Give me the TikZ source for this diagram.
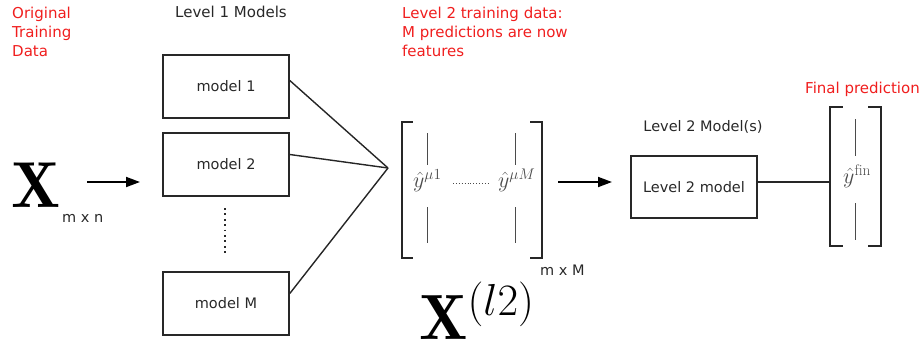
\RequirePackage{fix-cm}
\documentclass[tikz,border=0pt]{standalone}
\usepackage{fontspec}
\newfontfamily\dv{DejaVu Sans}
\usetikzlibrary{arrows.meta,calc}
\definecolor{redtxt}{RGB}{240,30,30}
\definecolor{txt}{RGB}{40,40,40}
\definecolor{mathgray}{RGB}{75,75,75}
\begin{document}
\begin{tikzpicture}[x=1pt,y=-1pt,
  lbl/.style={font=\dv\fontsize{14.5}{19}\selectfont, text=txt, inner sep=0},
  biglbl/.style={font=\dv\fontsize{15}{19}\selectfont, text=txt, inner sep=0},
  redlbl/.style={biglbl, text=redtxt, align=left, anchor=north west},
  modelbox/.style={draw=txt, line width=1.6pt, minimum width=126pt, minimum height=63pt,
    font=\dv\fontsize{14.5}{17}\selectfont, text=txt},
  conn/.style={line width=1.4pt, draw=black!85},
  arr/.style={line width=1.8pt, draw=black, -{Triangle[length=14pt,width=10pt]}},
  brk/.style={line width=1.8pt, draw=black!85},
  bar/.style={line width=0.9pt, draw=mathgray},
  mth/.style={text=mathgray, font=\fontsize{22}{26}\selectfont, inner sep=0},
  bigx/.style={text=black, inner sep=0, anchor=base}
]
\useasboundingbox (0,0) rectangle (922,346);

% red labels
\node[redlbl] (orig) at (12,7) {Original\\Training\\Data};
\node[redlbl] (l2data) at (402,7) {Level 2 training data:\\M predictions are now\\features};
\node[biglbl, text=redtxt, anchor=base west] (finlbl) at (805,93) {Final prediction};

% headings
\node[biglbl] (l1head) at (231,12) {Level 1 Models};
\node[lbl, anchor=base] (l2head) at (703,131.5) {Level 2 Model(s)};

% input X
\node[bigx, anchor=base west, font=\fontsize{65}{65}\selectfont] (X) at (11,207) {$\mathbf{X}$};
\node[lbl, anchor=base west] (Xsub) at (62,222) {m x n};
\coordinate (a1s) at (87,182);
\coordinate (a1e) at (140,182);
\draw[arr] (a1s) -- (a1e);

% level 1 models
\node[modelbox] (m1) at (226,86.5) {model 1};
\node[modelbox] (m2) at (226,164.5) {model 2};
\node[modelbox] (mM) at (226,303.5) {model M};
\coordinate (d1) at (225,208);
\coordinate (d2) at (225,254);
\draw[line width=2pt, dash pattern=on 1.8pt off 3.6pt, draw=txt] (d1) -- (d2);

% converging lines
\coordinate (conv) at (388,168);
\draw[conn] ($(m1.east)+(0,-6)$) -- (conv);
\draw[conn] ($(m2.east)+(0,-10)$) -- (conv);
\draw[conn] ($(mM.east)+(0,-10)$) -- (conv);

% level 2 training matrix
\node[minimum width=140pt, minimum height=136pt, inner sep=0] (mat) at (472,190) {};
\draw[brk] ([xshift=11pt]mat.north west) -- (mat.north west) -- (mat.south west) -- ([xshift=11pt]mat.south west);
\draw[brk] ([xshift=-12pt]mat.north east) -- (mat.north east) -- (mat.south east) -- ([xshift=-12pt]mat.south east);
\node[mth, anchor=base west] (y1) at (413,187) {$\hat y^{\mu1}$};
\node[mth, anchor=base west] (yM) at (498,187) {$\hat y^{\mu M}$};
\draw[bar] (427,133) -- (427,165);
\draw[bar] (427,207) -- (427,243);
\draw[bar] (515,133) -- (515,165);
\draw[bar] (515,207) -- (515,243);
\draw[line width=0.9pt, draw=mathgray, dash pattern=on 0.9pt off 2pt] (453,183) -- (488,183);
\node[lbl, anchor=base west] (matsub) at (540,275) {m x M};
\node[bigx, anchor=base west, font=\fontsize{64}{64}\selectfont] (Xl2) at (419,339) {$\mathbf{X}^{(l2)}$};

\coordinate (a2s) at (558,182);
\coordinate (a2e) at (612,182);
\draw[arr] (a2s) -- (a2e);

% level 2 model
\node[modelbox, minimum height=62pt] (l2) at (694,187) {Level 2 model};

% final prediction
\node[minimum width=51pt, minimum height=139pt, inner sep=0] (fin) at (855.5,176.5) {};
\draw[conn] ($(l2.east)+(-2,-5)$) -- (fin.west |- 0,182);
\draw[brk] ([xshift=13pt]fin.north west) -- (fin.north west) -- (fin.south west) -- ([xshift=13pt]fin.south west);
\draw[brk] ([xshift=-13pt]fin.north east) -- (fin.north east) -- (fin.south east) -- ([xshift=-13pt]fin.south east);
\node[mth, anchor=base west] (yfin) at (843,183) {$\hat y^{\mathrm{fin}}$};
\draw[bar] (855,119) -- (855,156);
\draw[bar] (855,203) -- (855,240);
\end{tikzpicture}
\end{document}
